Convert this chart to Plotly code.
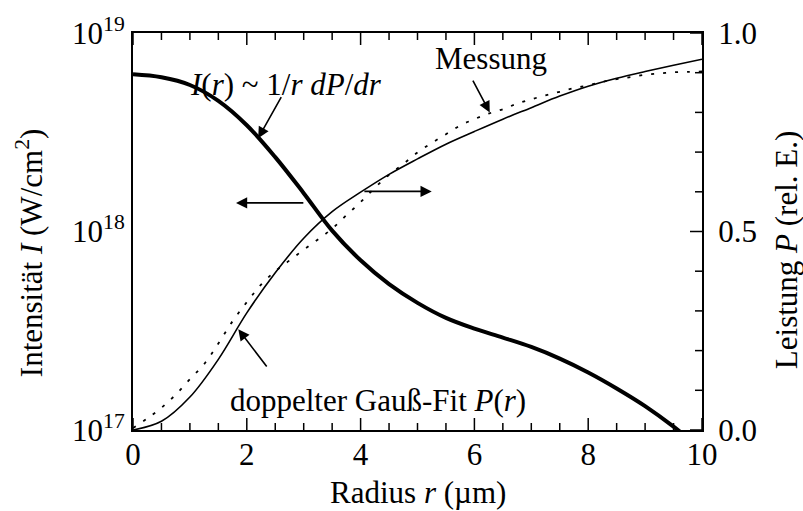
import math
import plotly.graph_objects as go

# Radius grid (µm)
r_fit = [0.0, 0.5, 1.0, 1.5, 2.0, 2.5, 3.0, 3.5, 4.0, 4.5, 5.0, 5.5, 6.0, 6.5,
         7.0, 7.5, 8.0, 8.5, 9.0, 9.5, 10.0]

# Intensity profile I(r) in W/cm^2 derived from the fit
intensity = [6.19e18, 5.98e18, 5.47e18, 4.55e18, 3.43e18, 2.37e18, 1.56e18,
             1.01e18, 7.16e17, 5.43e17, 4.37e17, 3.67e17, 3.24e17, 2.92e17,
             2.62e17, 2.29e17, 1.95e17, 1.62e17, 1.32e17, 1.04e17, 7.94e16]

# Double Gaussian fit of the enclosed power P(r), relative units
power_fit = [0.000, 0.022, 0.083, 0.178, 0.295, 0.396, 0.483, 0.550, 0.599,
             0.644, 0.683, 0.720, 0.752, 0.783, 0.812, 0.841, 0.866, 0.886,
             0.903, 0.919, 0.934]

# Measured enclosed power
r_meas = [0.0, 0.25, 0.5, 0.75, 1.0, 1.25, 1.5, 1.75, 2.0, 2.25, 2.5, 2.75,
          3.0, 3.25, 3.5, 3.75, 4.0, 4.25, 4.5, 4.75, 5.0, 5.25, 5.5, 5.75,
          6.0, 6.25, 6.5, 6.75, 7.0, 7.25, 7.5, 7.75, 8.0, 8.25, 8.5, 8.75,
          9.0, 9.25, 9.5, 9.75, 10.0]
power_meas = [0.005, 0.029, 0.056, 0.089, 0.128, 0.166, 0.218, 0.274, 0.322,
              0.366, 0.400, 0.427, 0.454, 0.480, 0.507, 0.541, 0.574, 0.610,
              0.643, 0.670, 0.699, 0.723, 0.745, 0.767, 0.783, 0.797, 0.808,
              0.822, 0.833, 0.843, 0.852, 0.861, 0.868, 0.877, 0.884, 0.889,
              0.895, 0.898, 0.901, 0.902, 0.903]

# Axis ticks
x_ticks = [0, 2, 4, 6, 8, 10]
x_minor = [k * 0.5 for k in range(21) if k % 4 != 0]
i_ticks = [1e17, 1e18, 1e19]
i_ticktext = ["10<sup>17</sup>", "10<sup>18</sup>", "10<sup>19</sup>"]
i_minor = [m * 10 ** e for e in (17, 18) for m in range(2, 10)]
p_ticks = [0.0, 0.5, 1.0]
p_ticktext = ["0.0", "0.5", "1.0"]
p_minor = [k / 10 for k in range(11) if k % 5 != 0]

FONT = "Liberation Serif"
FS = 31
MAJOR_LEN, MINOR_LEN, TICK_W = 12, 7, 1.5

fig = go.Figure()
fig.add_trace(go.Scatter(x=r_fit, y=intensity, mode="lines", yaxis="y",
                         line=dict(color="black", width=4, shape="spline", smoothing=1.0)))
fig.add_trace(go.Scatter(x=r_fit, y=power_fit, mode="lines", yaxis="y2",
                         line=dict(color="black", width=1.6, shape="spline", smoothing=1.0)))
fig.add_trace(go.Scatter(x=r_meas, y=power_meas, mode="lines", yaxis="y2",
                         line=dict(color="black", width=1.8, dash="3px,9px", shape="spline")))

axis_common = dict(showline=True, linecolor="black", linewidth=2, ticks="",
                   showgrid=False, zeroline=False,
                   tickfont=dict(family=FONT, size=FS, color="black"))

fig.update_layout(
    width=803, height=511,
    margin=dict(l=133, r=101, t=26, b=81),
    paper_bgcolor="white", plot_bgcolor="white",
    showlegend=False,
    font=dict(family=FONT, size=FS, color="black"),
    xaxis=dict(range=[0, 10], tickvals=x_ticks, mirror=True, ticklabelstandoff=-4,
               **axis_common),
    yaxis=dict(type="log", range=[17, 19], tickvals=i_ticks, ticktext=i_ticktext,
               **axis_common),
    yaxis2=dict(range=[0, 1], overlaying="y", side="right", tickvals=p_ticks,
                ticktext=p_ticktext, ticklabelstandoff=8, **axis_common),
)

# inward tick marks, fixed pixel length
tick_line = dict(color="black", width=TICK_W)
shapes = []
for v, ln in [(v, MAJOR_LEN) for v in x_ticks] + [(v, MINOR_LEN) for v in x_minor]:
    shapes.append(dict(type="line", xref="x", yref="paper", ysizemode="pixel",
                       yanchor=0, x0=v, x1=v, y0=0, y1=ln, line=tick_line))
    shapes.append(dict(type="line", xref="x", yref="paper", ysizemode="pixel",
                       yanchor=1, x0=v, x1=v, y0=0, y1=-ln, line=tick_line))
for v, ln in [(v, MAJOR_LEN) for v in i_ticks] + [(v, MINOR_LEN) for v in i_minor]:
    lv = math.log10(v)
    shapes.append(dict(type="line", xref="paper", yref="y", xsizemode="pixel",
                       xanchor=0, x0=0, x1=ln, y0=lv, y1=lv, line=tick_line))
for v, ln in [(v, MAJOR_LEN) for v in p_ticks] + [(v, MINOR_LEN) for v in p_minor]:
    shapes.append(dict(type="line", xref="paper", yref="y2", xsizemode="pixel",
                       xanchor=1, x0=0, x1=-ln, y0=v, y1=v, line=tick_line))

text_font = dict(family=FONT, size=FS, color="black")
annotations = [
    # axis titles
    dict(text="Radius <i>r</i> (µm)", xref="paper", yref="paper", x=0.5, y=0,
         xanchor="center", yanchor="middle", yshift=-62, showarrow=False, font=text_font),
    dict(text="Intensität <i>I</i> (W/cm<sup>2</sup>)", xref="paper", yref="paper",
         x=0, y=0.4455, xanchor="center", yanchor="middle", xshift=-104, textangle=-90,
         showarrow=False, font=text_font),
    dict(text="Leistung <i>P</i> (rel. E.)", xref="paper", yref="paper",
         x=1, y=0.453, xanchor="center", yanchor="middle", xshift=84, textangle=-90,
         showarrow=False, font=text_font),
    # curve labels
    dict(text="<i>I</i>(<i>r</i>) ~ 1/<i>r</i> <i>dP</i>/<i>dr</i>", xref="x", yref="y2",
         x=2.69, y=0.87, yanchor="middle", showarrow=False, font=text_font),
    dict(text="Messung", xref="x", yref="y2", x=6.29, y=0.935, yanchor="middle",
         showarrow=False, font=text_font),
    dict(text="doppelter Gauß-Fit <i>P</i>(<i>r</i>)", xref="x", yref="y2",
         x=4.31, y=0.074, yanchor="middle", showarrow=False, font=text_font),
]

# pointer arrows (tip, tail) in (r, P) coordinates
arrows = [
    ((2.20, 0.735), (2.62, 0.842)),
    ((6.27, 0.800), (5.96, 0.884)),
    ((1.81, 0.572), (3.02, 0.572)),
    ((5.25, 0.601), (4.04, 0.601)),
    ((1.85, 0.254), (2.37, 0.156)),
]
for (tx, ty), (sx, sy) in arrows:
    annotations.append(dict(x=tx, y=ty, ax=sx, ay=sy, xref="x", yref="y2",
                            axref="x", ayref="y2", text="", showarrow=True,
                            arrowhead=2, arrowsize=1.4, arrowwidth=1.6,
                            arrowcolor="black"))

fig.update_layout(annotations=annotations, shapes=shapes)
fig.write_html("out.html")
